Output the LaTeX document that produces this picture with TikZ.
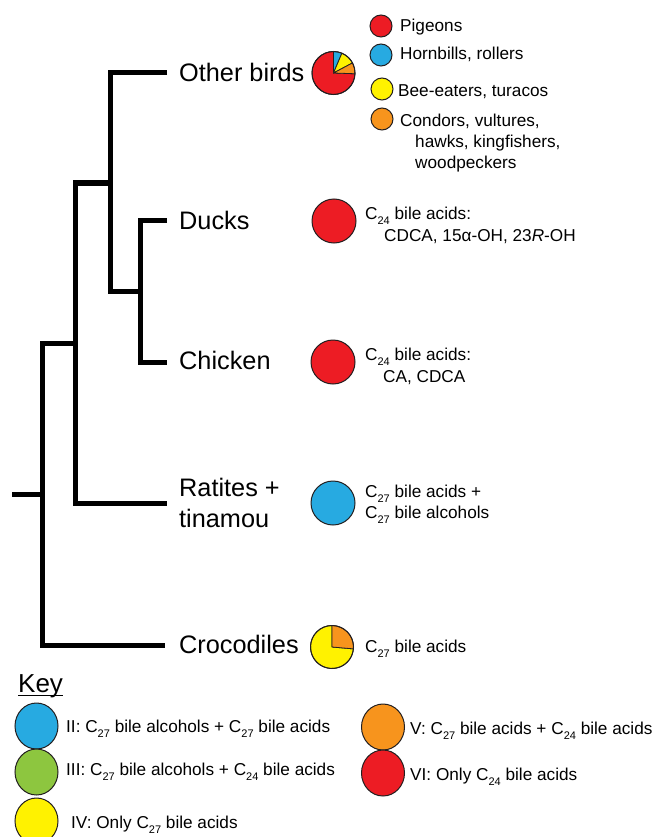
\documentclass[tikz,border=0pt]{standalone}
\usepackage{fontspec}
\setmainfont{Liberation Sans}
\usetikzlibrary{shapes.geometric,calc}
\definecolor{cred}{HTML}{ED1C24}
\definecolor{cblue}{HTML}{27AAE1}
\definecolor{cyellow}{HTML}{FFF200}
\definecolor{corange}{HTML}{F7941D}
\definecolor{cgreen}{HTML}{8DC63F}
\definecolor{outl}{HTML}{231F20}
\newcommand\sbs[1]{\raisebox{-5pt}{\fontsize{11}{11}\selectfont #1}}
\newcommand\pieslice[5]{% center, start, end, radius, colour
  \filldraw[fill=#5, draw=outl, line width=0.8pt, line join=round] (#1) -- ($(#1)+(#2:#4)$) arc[start angle=#2, end angle=#3, radius=#4] -- cycle;}
\begin{document}
\begin{tikzpicture}[x=1pt,y=-1pt,
  branch/.style={line width=5pt, line cap=butt, line join=miter},
  taxon/.style={anchor=base west, font=\fontsize{25.3}{30}\selectfont, inner sep=0},
  desc/.style={anchor=base west, font=\fontsize{17.2}{20}\selectfont, inner sep=0},
  dot/.style={circle, draw=outl, line width=1pt, minimum size=#1, inner sep=0},
  keydot/.style={ellipse, draw=outl, line width=1pt, minimum width=43pt, minimum height=46pt, inner sep=0}]
\useasboundingbox (0,0) rectangle (660,837);

% ---- tree ----
\coordinate (root) at (12,494);
\coordinate (jA) at (42,494);
\coordinate (jB) at (75,343);
\coordinate (jC) at (110,183);
\coordinate (jD) at (140,291);
\coordinate (obEnd) at (167,73);
\coordinate (duckEnd) at (167,220);
\coordinate (chickEnd) at (167,362);
\coordinate (ratEnd) at (167,503);
\coordinate (crocEnd) at (165,645);

\draw[branch] (root) -- (jA);
\draw[branch] (jB) -| (jA) |- (crocEnd);
\draw[branch] (jC) -| (jB) |- (ratEnd);
\draw[branch] (obEnd) -| (jC) |- (jD);
\draw[branch] (duckEnd) -| (jD) |- (chickEnd);

% ---- taxon labels ----
\node[taxon] (lblOB) at (179,82) {Other birds};
\node[taxon] (lblDuck) at (179,229) {Ducks};
\node[taxon] (lblChick) at (179,369) {Chicken};
\node[taxon] (lblRat) at (179,496) {Ratites +};
\node[taxon] (lblTin) at (179,527) {tinamou};
\node[taxon] (lblCroc) at (179,653) {Crocodiles};

% ---- pies / circles ----
\coordinate (pieOB) at (333.5,73);
\pieslice{pieOB}{2}{270}{21.5}{cred}
\pieslice{pieOB}{-90}{-67}{21.5}{cblue}
\pieslice{pieOB}{-67}{-28}{21.5}{cyellow}
\pieslice{pieOB}{-28}{2}{21.5}{corange}
\draw[outl, line width=1pt] (pieOB) circle[radius=21.5];

\node[dot=44pt, fill=cred] (cDuck) at (334,221) {};
\node[dot=44pt, fill=cred] (cChick) at (333,362) {};
\node[dot=44pt, fill=cblue] (cRat) at (333,503) {};

\coordinate (pieCroc) at (332,647);
\pieslice{pieCroc}{5}{270}{21.5}{cyellow}
\pieslice{pieCroc}{-90}{5}{21.5}{corange}
\draw[outl, line width=1pt] (pieCroc) circle[radius=21.5];

% ---- other birds legend ----
\node[dot=22pt, fill=cred] (lgPig) at (381,26) {};
\node[dot=22pt, fill=cblue] (lgHorn) at (381,55) {};
\node[dot=22pt, fill=cyellow] (lgBee) at (382,89) {};
\node[dot=22pt, fill=corange] (lgCon) at (382,119) {};
\node[desc] (tPig) at (400,32) {Pigeons};
\node[desc] (tHorn) at (400,60) {Hornbills, rollers};
\node[desc] (tBee) at (398,97) {Bee-eaters, turacos};
\node[desc] (tCon1) at (400,127) {Condors, vultures,};
\node[desc] (tCon2) at (415,148) {hawks, kingfishers,};
\node[desc] (tCon3) at (415,168) {woodpeckers};

% ---- descriptions ----
\node[desc] (dDuck1) at (365,219) {C\sbs{24} bile acids:};
\node[desc] (dDuck2) at (384,241) {CDCA, 15α-OH, 23\textit{R}-OH};
\node[desc] (dChick1) at (365,360) {C\sbs{24} bile acids:};
\node[desc] (dChick2) at (383,382) {CA, CDCA};
\node[desc] (dRat1) at (365,497) {C\sbs{27} bile acids +};
\node[desc] (dRat2) at (365,518) {C\sbs{27} bile alcohols};
\node[desc] (dCroc) at (365,652) {C\sbs{27} bile acids};

% ---- key ----
\node[anchor=base west, font=\fontsize{26}{30}\selectfont, inner sep=0] (key) at (18,692) {Key};
\draw[line width=1.6pt] ($(key.base west)+(0,3.5)$) -- ($(key.base east)+(0,3.5)$);

\node[keydot, fill=cblue] (kII) at (36.5,726) {};
\node[keydot, fill=cgreen] (kIII) at (36.5,772) {};
\node[keydot, fill=cyellow] (kIV) at (36.5,821) {};
\node[keydot, fill=corange] (kV) at (383,727) {};
\node[keydot, fill=cred] (kVI) at (383,773) {};

\node[desc] (tII) at (66,732) {II: C\sbs{27} bile alcohols + C\sbs{27} bile acids};
\node[desc] (tIII) at (66,775) {III: C\sbs{27} bile alcohols + C\sbs{24} bile acids};
\node[desc] (tIV) at (71,828) {IV: Only C\sbs{27} bile acids};
\node[desc] (tV) at (410,734) {V: C\sbs{27} bile acids + C\sbs{24} bile acids};
\node[desc] (tVI) at (410,780) {VI: Only C\sbs{24} bile acids};
\end{tikzpicture}
\end{document}
